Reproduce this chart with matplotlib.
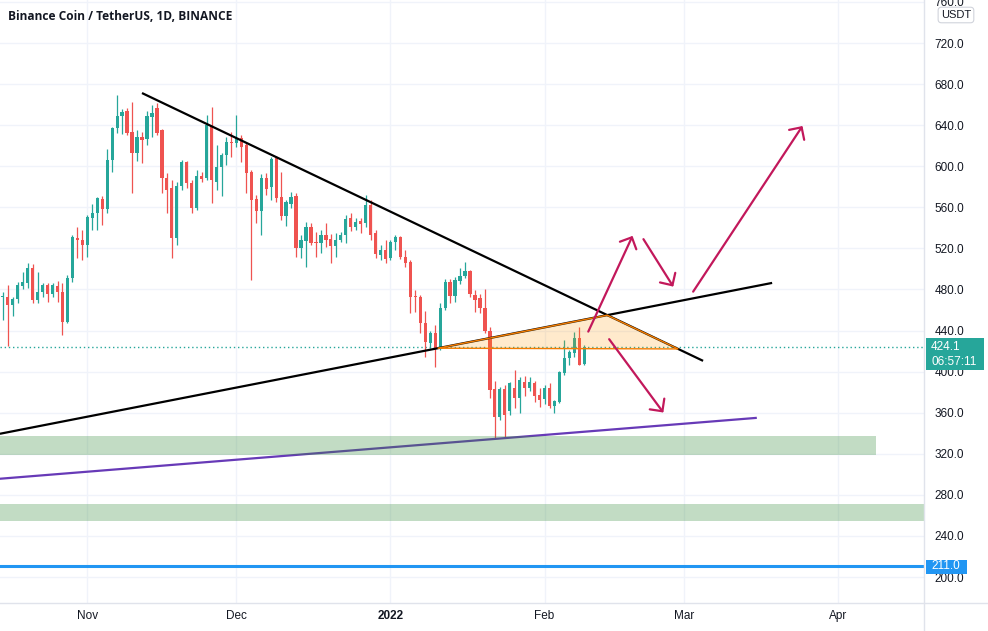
import matplotlib.pyplot as plt
import matplotlib.dates as mdates
import matplotlib.transforms as mtransforms
from matplotlib.patches import Rectangle, Polygon
from matplotlib.lines import Line2D
import numpy as np
import pandas as pd

# daily BNB/USDT candles, 2021-10-15 .. 2022-02-09
dates = pd.date_range('2021-10-15', '2022-02-09', freq='D')
opens = [472.2, 473.1, 465.0, 470.5, 483.5, 486.8, 500.7, 469.9, 478.0, 484.5,
         475.4, 483.8, 478.0, 448.2, 491.0, 529.9, 528.3, 523.4, 550.0, 554.2,
         567.9, 558.0, 606.1, 637.0, 649.0, 654.2, 633.7, 613.3, 628.2, 626.3,
         648.3, 657.0, 635.3, 588.3, 578.6, 529.9, 580.8, 604.5, 583.4, 559.1,
         590.6, 588.3, 640.2, 585.0, 599.0, 611.0, 624.0, 622.4, 627.2, 620.7,
         594.8, 568.2, 556.5, 588.3, 580.0, 608.4, 570.5, 552.0, 563.3, 571.1,
         520.2, 527.6, 541.3, 526.7, 525.7, 533.1, 528.9, 522.4, 528.3, 533.1,
         549.4, 541.3, 547.1, 544.5, 562.3, 534.8, 513.7, 518.5, 510.4, 526.7,
         530.9, 511.4, 507.2, 473.8, 473.1, 447.2, 427.7, 437.5, 422.8, 462.4,
         487.7, 474.1, 488.4, 493.6, 498.1, 474.7, 471.5, 462.4, 439.7, 383.3,
         356.3, 383.3, 362.0, 384.5, 374.2, 389.8, 384.5, 388.8, 376.8, 373.5,
         384.5, 367.0, 370.9, 398.5, 413.1, 418.0, 432.6, 407.3]
highs = [478.0, 484.5, 473.1, 487.7, 497.5, 505.6, 505.0, 497.5, 486.0, 486.7,
         486.0, 488.7, 486.0, 494.2, 533.1, 540.6, 538.0, 552.6, 563.3, 570.5,
         571.0, 616.5, 638.0, 669.4, 655.5, 656.4, 662.9, 635.3, 633.7, 654.2,
         659.7, 661.3, 636.0, 593.2, 586.7, 585.0, 606.1, 605.5, 586.7, 596.4,
         594.8, 649.9, 658.0, 620.7, 612.6, 628.8, 633.7, 649.9, 630.5, 622.4,
         596.4, 572.0, 592.5, 593.2, 609.4, 610.0, 594.8, 567.2, 575.3, 573.7,
         533.1, 546.1, 545.2, 536.4, 538.0, 545.2, 534.1, 535.4, 536.4, 552.6,
         554.2, 549.4, 549.4, 572.1, 567.2, 538.0, 523.4, 528.3, 528.3, 533.1,
         532.2, 518.5, 508.8, 479.6, 474.7, 459.5, 439.1, 445.6, 466.6, 490.3,
         490.3, 492.6, 500.7, 507.2, 499.1, 479.6, 475.4, 480.6, 443.9, 390.4,
         385.5, 387.2, 389.8, 401.8, 394.3, 396.2, 395.2, 390.4, 384.5, 387.2,
         388.8, 372.6, 400.8, 430.9, 421.2, 438.4, 443.9, 426.1]
lows = [450.4, 424.5, 454.3, 466.6, 480.3, 481.2, 466.6, 467.0, 473.0, 468.3,
        473.0, 468.3, 435.8, 447.2, 487.7, 510.4, 508.8, 512.0, 538.0, 538.0,
        542.9, 554.2, 594.8, 632.1, 631.4, 630.5, 573.7, 605.5, 602.9, 620.7,
        628.8, 630.5, 573.7, 554.2, 510.4, 523.4, 576.9, 578.6, 554.2, 557.5,
        585.0, 586.7, 564.0, 576.9, 571.0, 601.3, 609.4, 619.1, 604.5, 573.7,
        489.4, 544.5, 533.1, 572.0, 567.2, 565.6, 547.7, 542.2, 559.1, 512.1,
        510.4, 501.7, 523.4, 511.4, 515.3, 521.8, 505.6, 511.4, 526.7, 525.0,
        537.4, 538.0, 534.8, 541.3, 528.3, 510.4, 508.8, 506.2, 508.8, 518.5,
        509.5, 502.3, 456.9, 457.6, 437.4, 414.7, 422.8, 405.0, 421.2, 460.1,
        466.6, 468.3, 485.1, 491.0, 473.1, 458.5, 456.9, 437.4, 374.2, 335.2,
        353.1, 335.9, 358.0, 364.4, 359.6, 375.8, 380.7, 370.9, 365.1, 368.3,
        364.4, 359.6, 369.3, 396.9, 406.6, 414.7, 406.0, 406.0]
closes = [473.8, 465.0, 470.9, 484.5, 487.1, 500.7, 469.9, 478.0, 484.5, 475.7,
          484.5, 477.4, 448.8, 491.0, 531.5, 527.9, 523.4, 551.0, 554.2, 568.8,
          558.0, 606.1, 637.0, 649.0, 653.2, 632.7, 612.6, 628.2, 625.6, 649.0,
          651.6, 632.7, 588.3, 576.9, 529.9, 580.8, 604.5, 583.4, 559.1, 590.6,
          587.3, 640.2, 586.7, 599.6, 611.0, 624.0, 622.4, 627.2, 619.1, 593.2,
          567.2, 556.5, 588.3, 577.9, 606.8, 568.8, 552.0, 564.9, 570.5, 520.2,
          528.3, 541.3, 525.7, 525.0, 533.1, 528.3, 522.4, 528.3, 533.1, 548.4,
          541.3, 546.1, 543.8, 562.3, 533.1, 514.6, 518.5, 509.5, 526.7, 530.9,
          511.4, 506.2, 473.1, 472.5, 447.2, 428.4, 438.1, 422.8, 462.4, 487.7,
          474.1, 489.3, 493.6, 498.1, 475.4, 469.9, 461.8, 439.1, 382.3, 356.3,
          383.3, 358.0, 388.8, 374.8, 392.0, 384.5, 389.8, 375.8, 372.6, 383.9,
          366.1, 371.6, 399.5, 413.7, 419.6, 433.2, 406.6, 424.1]

# drawings (time, price)
desc_line = [('2021-11-12 00:00', 671.3), ('2022-03-04 21:36', 410.5)]
asc_line = [('2021-10-14 10:00', 339.5), ('2022-03-18 19:00', 486.4)]
purple_line = [('2021-10-14 10:00', 295.7), ('2022-03-15 17:00', 355.0)]
triangle = [('2022-01-10 12:00', 422.8), ('2022-02-13 14:24', 455.0), ('2022-02-27 21:36', 422.1)]
arrows = [
    [('2022-02-09 19:12', 439.0), ('2022-02-18 17:00', 532.2)],
    [('2022-02-20 21:36', 529.0), ('2022-02-26 21:36', 482.8)],
    [('2022-03-02 21:36', 477.9), ('2022-03-24 21:36', 639.2)],
    [('2022-02-14 00:00', 431.6), ('2022-02-24 21:36', 360.2)],
]
zone_upper = (318.6, 337.5, '2022-04-08 17:00')
zone_lower = (255.0, 271.3)
support_level = 211.0
last_price = 424.1
countdown = '06:57:11'

month_ticks = ['2021-11-01', '2021-12-01', '2022-01-01', '2022-02-01', '2022-03-01', '2022-04-01']
month_labels = ['Nov', 'Dec', '2022', 'Feb', 'Mar', 'Apr']
price_ticks = np.arange(200, 761, 40)

UP = '#26a69a'
DOWN = '#ef5350'
TXT = '#131722'


def t(s):
    return mdates.date2num(pd.Timestamp(s))


fig = plt.figure(figsize=(9.88, 6.31), dpi=100)
ax = fig.add_axes([0, 28 / 631, 924 / 988, 603 / 631])
ax.set_xlim(t('2021-10-14 10:19'), t('2022-04-18 08:24'))
ax.set_ylim(174.7, 761.9)

# grid
for m in month_ticks:
    ax.axvline(t(m), color='#f0f3fa', lw=1, zorder=0)
for p in price_ticks:
    ax.axhline(p, color='#f0f3fa', lw=1, zorder=0)

# candles
x = mdates.date2num(dates)
o = np.array(opens); h = np.array(highs); l = np.array(lows); c = np.array(closes)
cols = np.where(c >= o, UP, DOWN)
ax.vlines(x, l, h, colors=cols, lw=0.9, zorder=3)
body_lo = np.minimum(o, c)
body_h = np.maximum(np.abs(c - o), 1.2)
ax.bar(x, body_h, bottom=body_lo, width=0.66, color=cols, lw=0, zorder=4)

# last price line
ax.axhline(last_price, color=UP, ls=(0, (1, 2)), lw=1, zorder=2)

# trend lines
for pts, col in [(desc_line, 'black'), (asc_line, 'black'), (purple_line, '#673ab7')]:
    ax.plot([t(p[0]) for p in pts], [p[1] for p in pts], color=col, lw=1.6,
            solid_capstyle='butt', zorder=5)

# zones
ax.fill_between([t('2021-10-01'), t(zone_upper[2])], zone_upper[0], zone_upper[1],
                color='#388e3c', alpha=0.3, lw=0, zorder=6)
ax.axhspan(zone_lower[0], zone_lower[1], color='#388e3c', alpha=0.3, lw=0, zorder=6)
ax.axhline(support_level, color='#2196f3', lw=2.2, zorder=6)

# triangle
tri_pts = [(t(p[0]), p[1]) for p in triangle]
ax.add_patch(Polygon(tri_pts, closed=True, facecolor='#ff9800', alpha=0.2,
                     edgecolor='none', zorder=5))
ax.add_patch(Polygon(tri_pts, closed=True, facecolor='none', edgecolor='#f57c00',
                     lw=1.0, zorder=6))

# arrows
for a in arrows:
    ax.annotate('', xy=(t(a[1][0]), a[1][1]), xytext=(t(a[0][0]), a[0][1]),
                arrowprops=dict(arrowstyle='->,head_length=0.65,head_width=0.65',
                                color='#c2185b', lw=1.6, shrinkA=0, shrinkB=0),
                zorder=7)

# axes styling
for s in ['top', 'left', 'right', 'bottom']:
    ax.spines[s].set_visible(False)
ax.yaxis.tick_right()
ax.set_yticks(price_ticks)
ax.set_yticklabels(['%.1f' % p for p in price_ticks])
ax.tick_params(axis='y', length=0, pad=7.5, labelsize=8.5, labelcolor=TXT)
ax.set_xticks([t(m) for m in month_ticks])
ax.set_xticklabels(month_labels)
ax.tick_params(axis='x', length=0, pad=5, labelsize=8.5, labelcolor=TXT)
for lab in ax.get_xticklabels() + ax.get_yticklabels():
    lab.set_fontfamily('Liberation Sans')
ax.get_xticklabels()[2].set_fontweight('bold')

# separators
fig.add_artist(Line2D([924 / 988, 924 / 988], [0, 1], color='#e0e3eb', lw=1))
fig.add_artist(Line2D([0, 1], [28 / 631, 28 / 631], color='#e0e3eb', lw=1))

# price-scale labels
bt = mtransforms.blended_transform_factory(ax.transAxes, ax.transData)
ax.add_patch(Rectangle((1.0022, 401.8), 0.0628, 31.1, transform=bt, facecolor=UP,
                       edgecolor='none', clip_on=False, zorder=8))
ax.text(1.0076, last_price, '%.1f' % last_price, transform=bt, color='white',
        fontsize=8.5, va='center', ha='left', family='Liberation Sans', zorder=9)
ax.text(1.0076, 409.0, countdown, transform=bt, color='white',
        fontsize=8.5, va='center', ha='left', family='Liberation Sans', zorder=9)
ax.add_patch(Rectangle((1.0022, 203.2), 0.0444, 13.6, transform=bt, facecolor='#2196f3',
                       edgecolor='none', clip_on=False, zorder=8))
ax.text(1.0076, support_level, '%.1f' % support_level, transform=bt, color='white',
        fontsize=8.5, va='center', ha='left', family='Liberation Sans', zorder=9)
ax.text(1.0346, 747.3, 'USDT', transform=bt, color=TXT, fontsize=8, va='center',
        ha='center', family='Liberation Sans', zorder=9,
        bbox=dict(boxstyle='round,pad=0.25,rounding_size=0.3', fc='white', ec='#d1d4dc', lw=0.8))

fig.text(8 / 988, 1 - 16 / 631, 'Binance Coin / TetherUS, 1D, BINANCE', fontsize=8.6,
         fontweight='bold', color=TXT, va='center', ha='left', family='Open Sans')

fig.savefig('out.png', dpi=100)
